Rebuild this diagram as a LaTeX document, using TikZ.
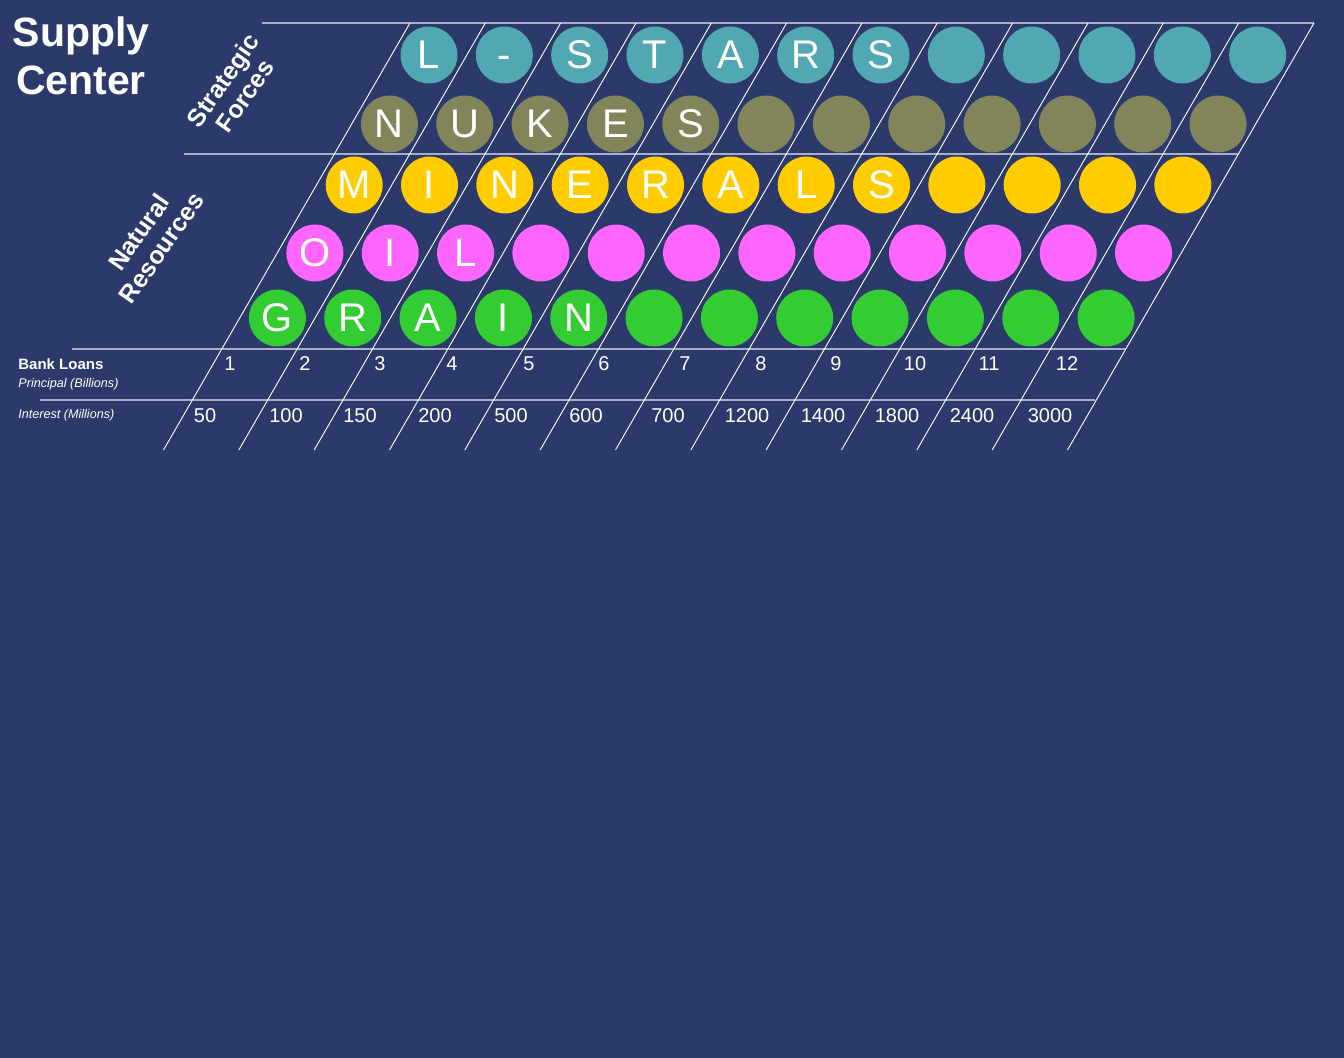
\documentclass[tikz,border=0pt]{standalone}
\usepackage{fontspec}
\setmainfont{Liberation Sans}
\usetikzlibrary{positioning}

\definecolor{bgnavy}{HTML}{2B396B}
\definecolor{sfteal}{HTML}{52A8B2}
\definecolor{sfolive}{HTML}{82855A}
\definecolor{nryellow}{HTML}{FFCC00}
\definecolor{nrpink}{HTML}{FF66FF}
\definecolor{nrgreen}{HTML}{33CC33}
\definecolor{rulegray}{HTML}{A9AEC8}

\begin{document}
\begin{tikzpicture}[
  x=0.5pt, y=-0.5pt,
  dot/.style={circle,minimum size=28.5pt,inner sep=0pt,text=white,
              font=\fontsize{20}{20}\selectfont},
  hline/.style={draw=rulegray,line width=0.7pt},
  sline/.style={draw=white,line width=0.45pt},
  num/.style={text=white,inner sep=0pt,font=\fontsize{10}{12}\selectfont},
  side/.style={text=white,align=center,rotate=55,
               font=\bfseries\fontsize{12.5}{13.5}\selectfont},
  lbl/.style={text=white,anchor=west,inner sep=0pt},
]
\fill[bgnavy] (0,0) rectangle (1344,1058);
\useasboundingbox (0,0) rectangle (1344,1058);

% title and side labels
\node[text=white,align=center,font=\bfseries\fontsize{20.5}{24}\selectfont]
  (title) at (81,56) {Supply\\Center};
\node[side] (strategic) at (234,88) {Strategic\\Forces};
\node[side] (natural) at (150,240) {Natural\\Resources};

% grid
\draw[hline] (262,23) -- (1314,23);
\draw[hline] (184,154) -- (1238,154);
\draw[hline] (72,349) -- (1126,349);
\draw[hline] (40,400) -- (1095,400);
\foreach \i in {0,...,12}
  \draw[sline] (410+75.333*\i,23) -- ++(-246.5,427);

% supply rows
\foreach \l [count=\i from 0] in {L,-,S,T,A,R,S,{},{},{},{},{}}
  \node[dot,fill=sfteal] (stars\i) at (429+75.333*\i,55) {\vphantom{L}\l};
\foreach \l [count=\i from 0] in {N,U,K,E,S,{},{},{},{},{},{},{}}
  \node[dot,fill=sfolive] (nukes\i) at (389.4+75.333*\i,124) {\vphantom{L}\l};
\foreach \l [count=\i from 0] in {M,I,N,E,R,A,L,S,{},{},{},{}}
  \node[dot,fill=nryellow] (minerals\i) at (354.2+75.333*\i,185) {\vphantom{L}\l};
\foreach \l [count=\i from 0] in {O,I,L,{},{},{},{},{},{},{},{},{}}
  \node[dot,fill=nrpink] (oil\i) at (314.9+75.333*\i,253) {\vphantom{L}\l};
\foreach \l [count=\i from 0] in {G,R,A,I,N,{},{},{},{},{},{},{}}
  \node[dot,fill=nrgreen] (grain\i) at (277.4+75.333*\i,318) {\vphantom{L}\l};

% bank loans
\node[lbl,font=\bfseries\fontsize{7.5}{9}\selectfont] (loans) at (18,364) {Bank Loans};
\node[lbl,font=\itshape\fontsize{6.3}{8}\selectfont] (principal) at (18,384) {Principal (Billions)};
\node[lbl,font=\itshape\fontsize{6.3}{8}\selectfont] (interest) at (18,415) {Interest (Millions)};
\foreach \x/\t in {230/1,305/2,380/3,452/4,529/5,604/6,685/7,761/8,836/9,915/10,989/11,1067/12}
  \node[num] (p\t) at (\x,364) {\t};
\foreach \x/\t in {205/50,286/100,360/150,435/200,511/500,586/600,668/700,
                   747/1200,823/1400,897/1800,972/2400,1050/3000}
  \node[num] (m\t) at (\x,416) {\t};
\end{tikzpicture}
\end{document}
